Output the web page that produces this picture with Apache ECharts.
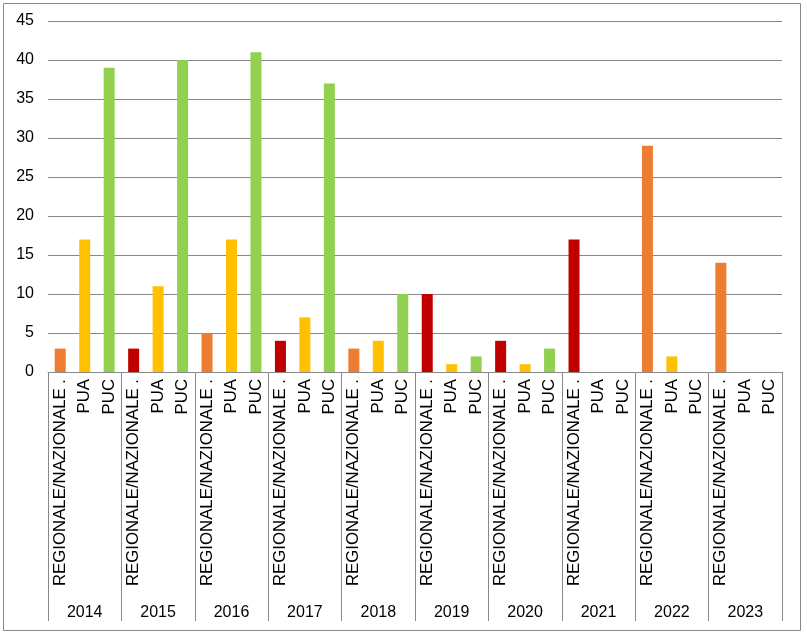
<!DOCTYPE html>
<html>
<head>
<meta charset="utf-8">
<script src="https://cdn.jsdelivr.net/npm/echarts@6/dist/echarts.min.js"></script>
<style>
  html, body { margin: 0; padding: 0; background: #fff; }
  #chart { width: 807px; height: 635px; }
</style>
</head>
<body>
<div id="chart"></div>
<script>
// anni e tipologie
const years = ['2014', '2015', '2016', '2017', '2018', '2019', '2020', '2021', '2022', '2023'];
const types = ['REGIONALE/NAZIONALE .', 'PUA', 'PUC'];

// valori per tipologia, un valore per anno
const regionale = [3, 3, 5, 4, 3, 10, 4, 17, 29, 14];
const pua = [17, 11, 17, 7, 4, 1, 1, 0, 2, 0];
const puc = [39, 40, 41, 37, 10, 2, 3, 0, 0, 0];

const yTicks = [0, 5, 10, 15, 20, 25, 30, 35, 40, 45];

// colori (regionale alterna arancio / rosso scuro)
const orange = '#ED7D31';
const darkRed = '#C00000';
const regColors = [orange, darkRed, orange, darkRed, orange, darkRed, darkRed, darkRed, orange, orange];
const typeColors = [null, '#FFC000', '#92D050'];

const font = 'Liberation Sans, Arial, sans-serif';

let categories = [];
let barData = [];
years.forEach((y, i) => {
    [regionale, pua, puc].forEach((arr, t) => {
        categories.push(types[t]);
        barData.push({
            value: arr[i],
            itemStyle: { color: t === 0 ? regColors[i] : typeColors[t] },
        });
    });
});

let myChart = echarts.init(document.getElementById('chart'));
myChart.setOption({
    animation: false,
    grid: {
        left: 48,
        right: 25,
        top: 21,
        bottom: 263,
        containLabel: false,
    },
    graphic: [
        {
            type: 'rect',
            shape: { x: 3.5, y: 3.5, width: 797, height: 627 },
            style: { fill: 'none', stroke: '#888', lineWidth: 1 },
            silent: true,
        },
    ],
    xAxis: [
        {
            type: 'category',
            data: categories,
            axisTick: { show: false },
            axisLine: { lineStyle: { color: '#888' } },
            axisLabel: {
                interval: 0,
                rotate: 90,
                margin: 7,
                color: '#000',
                fontSize: 16.8,
                fontFamily: font,
            },
        },
        {
            type: 'category',
            position: 'bottom',
            data: years,
            axisLine: { show: false },
            axisTick: {
                show: true,
                interval: 0,
                length: 249,
                lineStyle: { color: '#888' },
            },
            axisLabel: {
                interval: 0,
                margin: 233,
                color: '#000',
                fontSize: 16,
                fontFamily: font,
            },
        },
    ],
    yAxis: {
        type: 'value',
        min: yTicks[0],
        max: yTicks[yTicks.length - 1],
        interval: 5,
        axisLine: { show: false },
        axisTick: { show: false },
        axisLabel: {
            margin: 14,
            color: '#000',
            fontSize: 16,
            fontFamily: font,
        },
        splitLine: {
            lineStyle: { color: '#888' },
        },
    },
    series: [
        {
            type: 'bar',
            xAxisIndex: 0,
            barWidth: 11,
            data: barData,
        },
    ],
});
</script>
</body>
</html>
